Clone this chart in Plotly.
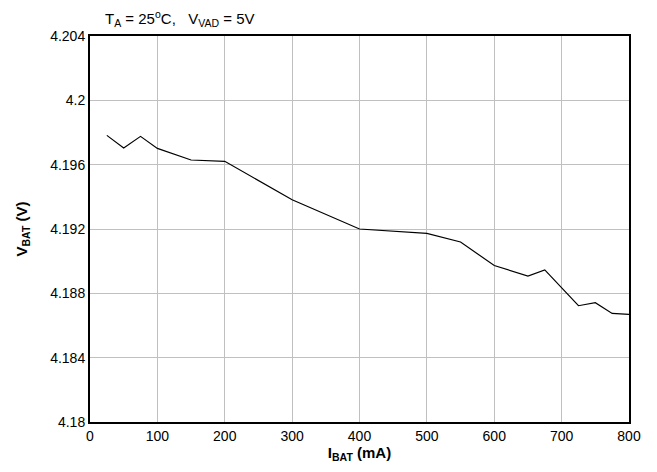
import plotly.graph_objects as go

i_bat = [25, 50, 75, 100, 150, 200, 300, 400, 500, 550, 600, 650, 675, 725, 750, 775, 800]
v_bat = [4.19782, 4.19704, 4.19776, 4.19701, 4.19629, 4.19621, 4.19382, 4.19200, 4.19173,
         4.19119, 4.18973, 4.18907, 4.18946, 4.18723, 4.18742, 4.18675, 4.18669]
y_ticks = [4.18, 4.184, 4.188, 4.192, 4.196, 4.2, 4.204]
y_labels = ["4.18", "4.184", "4.188", "4.192", "4.196", "4.2", "4.204"]
x_ticks = [0, 100, 200, 300, 400, 500, 600, 700, 800]

FONT = "Arial, Liberation Sans, sans-serif"

fig = go.Figure()
fig.add_trace(go.Scatter(x=i_bat, y=v_bat, mode="lines",
                         line=dict(color="black", width=1.2), showlegend=False))

fig.update_layout(
    width=657, height=472,
    margin=dict(l=82, r=36, t=28, b=58),
    paper_bgcolor="white", plot_bgcolor="white",
    font=dict(family=FONT, size=14, color="black"),
    xaxis=dict(range=[0, 800], tickvals=x_ticks, showgrid=True, gridcolor="#c0c0c0",
               gridwidth=1, showline=True, linecolor="black", linewidth=2, mirror=True,
               ticks="", zeroline=False, automargin=False,
               title=dict(text="<b>I<sub>BAT</sub> (mA)</b>", font=dict(size=15), standoff=2)),
    yaxis=dict(range=[4.18, 4.204], tickvals=y_ticks, ticktext=y_labels, showgrid=True,
               gridcolor="#c0c0c0", gridwidth=1, showline=True, linecolor="black", linewidth=2,
               mirror=True, ticks="", zeroline=False, automargin=False,
               title=dict(text="<b>V<sub>BAT</sub> (V)</b>", font=dict(size=15), standoff=19)),
    annotations=[dict(text="T<sub>A</sub> = 25<sup>o</sup>C,   V<sub>VAD</sub> = 5V",
                      xref="paper", yref="paper", x=(103 - 90) / 539, y=1.0, yshift=5,
                      xanchor="left", yanchor="bottom", showarrow=False,
                      font=dict(size=15, family=FONT))],
)

fig.write_html("out.html")
